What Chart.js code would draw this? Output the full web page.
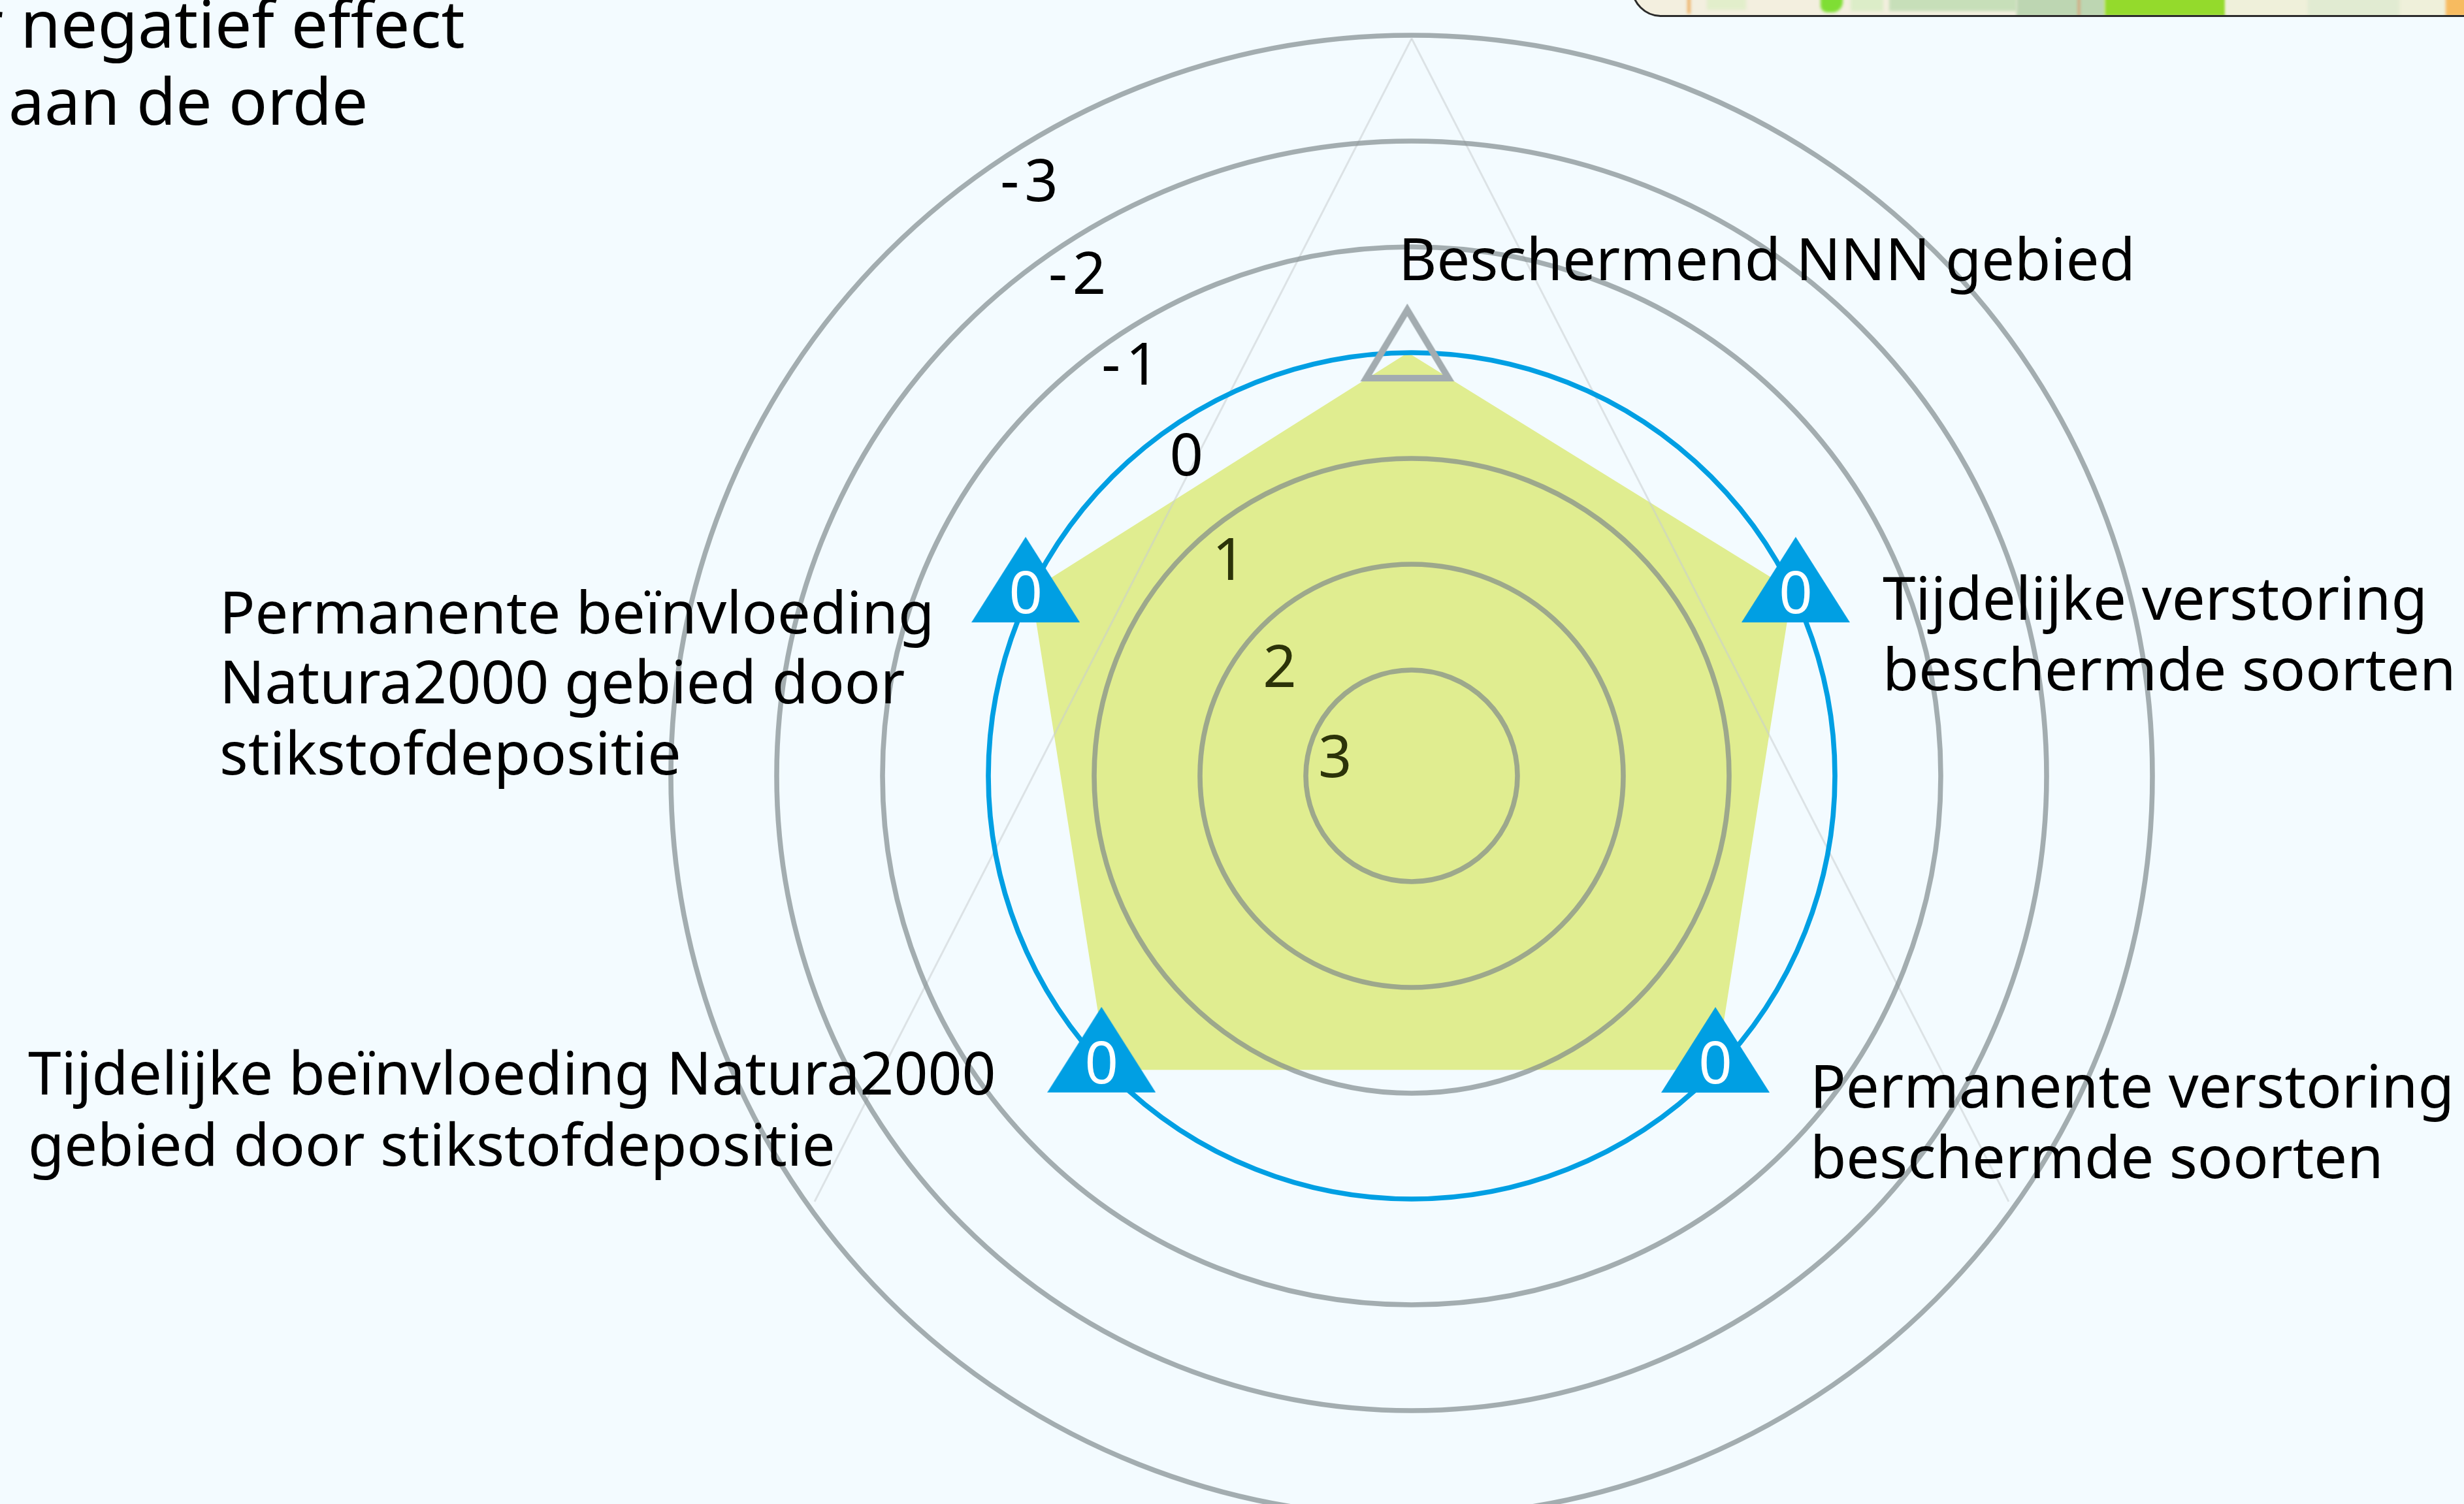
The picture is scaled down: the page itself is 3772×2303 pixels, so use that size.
<!DOCTYPE html>
<html lang="nl">
<head>
<meta charset="utf-8">
<title>Radar</title>
<script src="https://cdn.jsdelivr.net/npm/chart.js@4/dist/chart.umd.js"></script>
<style>
html,body{margin:0;padding:0;width:3772px;height:2303px;overflow:hidden;background:#f3fbff;font-family:"Noto Sans",sans-serif;color:#000}
#wrap{position:absolute;left:0;top:0;width:3772px;height:2303px;overflow:hidden}
canvas#c{position:absolute;left:1011px;top:38px}
.t{position:absolute;white-space:pre;color:#000}
#map{position:absolute;left:2497px;top:-40px;width:1300px;height:60px;border:3px solid #2b2b2b;border-radius:0 0 0 46px;background:#f3efdf;overflow:hidden}
#map i{position:absolute;top:0;display:block;filter:blur(2px)}
</style>
</head>
<body>
<div id="wrap">
<div id="map">
<i style="left:83px;width:5px;height:58px;background:#efb56c"></i>
<i style="left:113px;width:60px;height:52px;background:#e2eecb"></i>
<i style="left:287px;width:34px;height:56px;background:#7fde34;border-radius:0 0 16px 10px"></i>
<i style="left:333px;width:50px;height:54px;background:#dcedc8"></i>
<i style="left:392px;width:195px;height:54px;background:#c7dfb9"></i>
<i style="left:587px;width:135px;height:62px;background:#bdd6b2"></i>
<i style="left:681px;width:3px;height:62px;background:#dd9a70"></i>
<i style="left:722px;width:185px;height:62px;background:#94da2c"></i>
<i style="left:907px;width:337px;height:62px;background:#eff0da"></i>
<i style="left:1033px;width:140px;height:62px;background:#e1ebd2"></i>
<i style="left:1244px;width:40px;height:62px;background:#f7bb60"></i>
</div>
<canvas id="c" width="2300" height="2300"></canvas>
</div>
<script>
const axisNames = ["Beschermend NNN gebied","Tijdelijke verstoring beschermde soorten","Permanente verstoring beschermde soorten","Tijdelijke beïnvloeding Natura2000 gebied door stikstofdepositie","Permanente beïnvloeding Natura2000 gebied door stikstofdepositie"];
const effectValues = [0,0,0,0,0];
const markerLabels = ["", "0", "0", "0", "0"];
const tickValues = [-3,-2,-1,0,1,2,3];
const guideValues = [-2.97,-2.93,-2.93];

// layout only: where each spoke sits around the circle (degrees clockwise from top)
const SLOTS = 720;
const polygonAngles = [359.5,64,134,226,296];
const markerAngles  = [359.5,64.5,133.5,227.5,295.5];
const markerNudgeX  = [-1,3,-5,3,-6];
const markerNudgeY  = [-2,-3,-8,0,-3];
const guideAngles   = [0,125.5,234.5];
const tickLabelAngles = [-32.7,-33.6,-34.3,-35,-40.1,-50.2,-75.6];
const tickLabelInsets = [50,47,46,47,52,61,41];

const slot = a => Math.round(a*SLOTS/360)%SLOTS;
function sparse(angles, values){
  const out = new Array(SLOTS).fill(null);
  angles.forEach((a,i)=>{ out[slot(a)] = values[i]; });
  return out;
}
const labels = new Array(SLOTS).fill("");
polygonAngles.forEach((a,i)=>{ labels[slot(a)] = axisNames[i]; });

function triangle(w,h,total,fill,stroke,lw){
  const c = document.createElement('canvas'); c.width=w; c.height=total;
  const g = c.getContext('2d');
  g.beginPath();
  if(stroke){
    const a=lw*1.15, b=lw/2;
    g.moveTo(w/2,a); g.lineTo(w-lw*1.0,h-b); g.lineTo(lw*1.0,h-b); g.closePath();
    g.lineJoin='miter'; g.miterLimit=10; g.lineWidth=lw; g.strokeStyle=stroke; g.stroke();
  } else {
    g.moveTo(w/2,0); g.lineTo(w,h); g.lineTo(0,h); g.closePath();
    g.fillStyle=fill; g.fill();
  }
  return c;
}
const blueTri = triangle(166,131,168,'#009fe3');
const greyTri = triangle(146,121,150,null,'#a3acb0',10);

const font = '90px "Noto Sans"';
const MARKERS = 3;
const overlay = {
  id:'overlay',
  beforeDatasetDraw(chart,args){ if(args.index===MARKERS) return false; },
  afterDraw(chart){
    const ctx = chart.ctx, s = chart.scales.r;
    const meta = chart.getDatasetMeta(MARKERS);
    ctx.save();
    ctx.font = font; ctx.textAlign='center'; ctx.textBaseline='alphabetic';
    markerAngles.forEach((a,i)=>{
      const p = meta.data[slot(a)];
      ctx.save();
      ctx.translate(markerNudgeX[i],markerNudgeY[i]);
      p.draw(ctx,chart.chartArea);
      if(markerLabels[i]){
        ctx.fillStyle='#fff';
        ctx.fillText(markerLabels[i], p.x, p.y+33);
      }
      ctx.restore();
    });
    tickValues.forEach((v,i)=>{
      const r = s.getDistanceFromCenterForValue(v)-tickLabelInsets[i];
      const th = tickLabelAngles[i]*Math.PI/180;
      const x = s.xCenter+r*Math.sin(th), y = s.yCenter-r*Math.cos(th);
      ctx.fillStyle = v>0 ? '#2c3309' : '#000';
      ctx.letterSpacing = v<0 ? '8px' : '0px';
      ctx.fillText(String(v), x+(v<0?4:0), y+32);
    });
    ctx.restore();
  }
};

const base = {pointRadius:0,spanGaps:true,borderWidth:0,fill:false};
new Chart(document.getElementById('c'),{
  type:'radar',
  data:{labels,datasets:[
    {...base,label:'effect',data:sparse(polygonAngles,effectValues),backgroundColor:'#e0ed90',fill:'start',order:3},
    {...base,label:'guide-l',data:sparse([guideAngles[0],guideAngles[2]],[guideValues[0],guideValues[2]]),borderColor:'rgba(200,205,208,.55)',borderWidth:3,order:2},
    {...base,label:'guide-r',data:sparse([guideAngles[0],guideAngles[1]],[guideValues[0],guideValues[1]]),borderColor:'rgba(200,205,208,.55)',borderWidth:3,order:2},
    {label:'markers',data:sparse(markerAngles,effectValues),showLine:false,fill:false,spanGaps:true,borderWidth:0,pointRadius:90,
     pointStyle:c=>c.dataIndex===slot(markerAngles[0])?greyTri:blueTri,order:1}
  ]},
  options:{
    responsive:false,animation:false,events:[],
    layout:{padding:16},
    plugins:{legend:{display:false},tooltip:{enabled:false}},
    scales:{r:{
      min:-3,max:4,reverse:true,
      ticks:{display:false,stepSize:1},
      pointLabels:{display:false},
      angleLines:{display:false},
      grid:{circular:true,z:1,lineWidth:7.6,
        color:c=>c.tick.value===4?'rgba(0,0,0,0)':c.tick.value===0?'#009fe3':'rgba(125,135,138,.68)'}
    }}
  },
  plugins:[overlay]
});

const texts = [
  ["r negatief effect",-36,70,100],
  ["aan de orde",13,189,98],
  ["Beschermend NNN gebied",2141,427,90],
  ["Tijdelijke verstoring",2882,947,90.5],
  ["beschermde soorten",2882,1055,90],
  ["Permanente verstoring",2771,1694,90.5],
  ["beschermde soorten",2771,1802,90],
  ["Permanente beïnvloeding",336,968,90],
  ["Natura2000 gebied door",336,1076,91],
  ["stikstofdepositie",336,1184,91.3],
  ["Tijdelijke beïnvloeding Natura2000",43,1675,91],
  ["gebied door stikstofdepositie",43,1783,90]
];
const wrap = document.getElementById('wrap');
texts.forEach(([s,x,b,f])=>{
  const d = document.createElement('div');
  d.className='t'; d.textContent=s;
  d.style.fontSize=f+'px';
  d.style.lineHeight=f*1.2+'px';
  d.style.left=x+'px';
  d.style.top=(b-f*0.962)+'px';
  wrap.appendChild(d);
});
</script>
</body>
</html>
